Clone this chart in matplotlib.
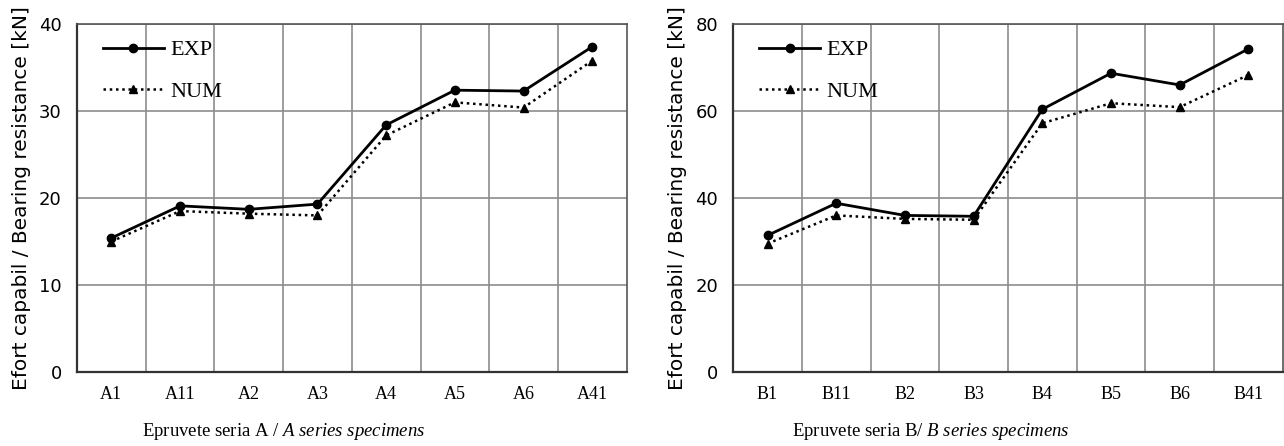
import matplotlib
matplotlib.use("Agg")
import matplotlib.pyplot as plt
import numpy as np

# --DATA-- #
cats_a = ["A1", "A11", "A2", "A3", "A4", "A5", "A6", "A41"]
exp_a = [15.4, 19.1, 18.7, 19.3, 28.4, 32.4, 32.3, 37.4]
num_a = [15.0, 18.5, 18.2, 18.0, 27.2, 31.0, 30.4, 35.8]

cats_b = ["B1", "B11", "B2", "B3", "B4", "B5", "B6", "B41"]
exp_b = [31.4, 38.8, 36.0, 35.8, 60.4, 68.7, 66.0, 74.3]
num_b = [29.5, 36.0, 35.2, 35.0, 57.2, 61.8, 60.9, 68.3]

ylabel = "Efort capabil / Bearing resistance [kN]"
serif = ["Liberation Serif", "DejaVu Serif"]
sans = ["DejaVu Sans"]


def draw_panel(ax, cats, exp, num, ymax, ystep, xlab_plain, xlab_ital, xlab_x):
    '''
    One panel: EXP solid line with dots, NUM dotted line with triangles.
    '''
    x = np.arange(len(cats))
    ax.plot(x, exp, "k-", lw=2, marker="o", ms=6, label="EXP")
    ax.plot(x, num, color="k", ls=(0, (1, 1.5)), lw=1.8, marker="^", ms=6, label="NUM")
    ax.set_xlim(-0.5, len(cats) - 0.5)
    ax.set_ylim(0, ymax)
    ax.set_yticks(np.arange(0, ymax + 1, ystep))
    ax.set_xticks(x)
    ax.set_xticklabels(cats, fontfamily=serif, fontsize=13)
    ax.set_xticks(np.arange(0.5, len(cats) - 1, 1), minor=True)
    ax.tick_params(axis="both", which="both", length=0, pad=10)
    ax.tick_params(axis="y", labelsize=13, pad=11)
    for lab in ax.get_yticklabels():
        lab.set_fontfamily(sans)
    ax.grid(True, which="minor", axis="x", color="#8c8c8c", lw=1.2)
    ax.grid(True, which="major", axis="y", color="#8c8c8c", lw=1.2)
    for s in ["top", "right"]:
        ax.spines[s].set_color("#555555")
        ax.spines[s].set_linewidth(1.2)
    for s in ["left", "bottom"]:
        ax.spines[s].set_color("#333333")
        ax.spines[s].set_linewidth(1.6)
    ax.set_ylabel(ylabel, fontfamily=sans, fontsize=14.5, labelpad=6)
    ax.set_xlabel(xlab_plain + r" $\mathit{" + xlab_ital.replace(" ", r"\ ") + "}$",
                  fontfamily=serif, fontsize=13.5, labelpad=13)
    ax.xaxis.label.set_x(xlab_x)
    ax.legend(loc="upper left", bbox_to_anchor=(0.047, 0.955), frameon=False,
              prop={"family": serif, "size": 16}, borderaxespad=0, borderpad=0,
              handlelength=2.75, labelspacing=0.95, handletextpad=0.3)


plt.rcParams["mathtext.fontset"] = "custom"
plt.rcParams["mathtext.it"] = "Liberation Serif:italic"

fig = plt.figure(figsize=(12.84, 4.46), dpi=100)
ax1 = fig.add_axes([0.060, 0.166, 0.428, 0.780])
ax2 = fig.add_axes([0.571, 0.166, 0.428, 0.780])

draw_panel(ax1, cats_a, exp_a, num_a, 40, 10, "Epruvete seria A /", "A series specimens", 0.376)
draw_panel(ax2, cats_b, exp_b, num_b, 80, 20, "Epruvete seria B/", "B series specimens", 0.359)

fig.savefig("out.png", dpi=100)
